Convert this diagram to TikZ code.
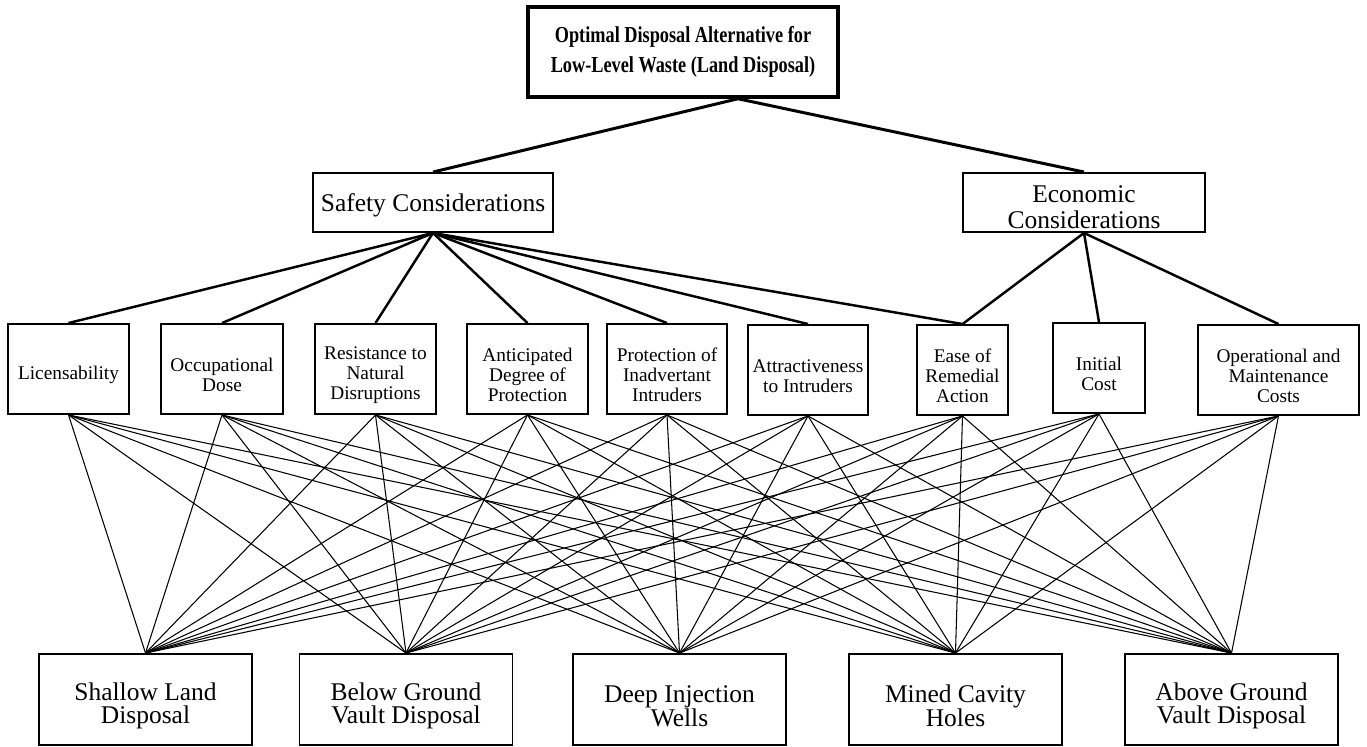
\documentclass[tikz,border=0pt]{standalone}
\usepackage{fontspec}
\setmainfont{Liberation Serif}
\newfontfamily\goalfont[FakeStretch=0.8]{Liberation Serif}
\newcommand{\low}[1][1.3em]{\rule{0pt}{#1}}% pushes a label down a little in its box

\begin{document}
\begin{tikzpicture}[x=0.02cm, y=-0.02cm,
		goalbox/.style={draw, line width=2pt, minimum width=6.2cm, minimum height=1.8cm,
			align=center, font=\goalfont\bfseries\fontsize{13}{17}\selectfont},
		critbox/.style={draw, line width=1.1pt, minimum width=4.8cm, minimum height=1.18cm,
			inner sep=1pt, align=center, font=\fontsize{14.5}{15}\selectfont},
		subbox/.style={draw, line width=1.1pt, minimum height=1.8cm, inner sep=1pt,
			align=center, font=\fontsize{11}{11.6}\selectfont},
		altbox/.style={draw, line width=1.1pt, minimum width=4.26cm, minimum height=1.82cm,
			align=center, font=\fontsize{14.5}{13.5}\selectfont}]
	\useasboundingbox (0,0) rectangle (1367,747);
	% goal
	\node[goalbox] (goal) at (683,52) {Optimal Disposal Alternative for\\Low-Level Waste (Land Disposal)};
	\coordinate (apex) at ([xshift=1.1cm]goal.south);
	% criteria
	\node[critbox] (safety) at (433,202.5) {\low[0.95em]Safety Considerations};
	\node[critbox, minimum width=4.84cm] (econ) at (1084,202.5) {\low[1.05em]Economic\\Considerations};
	% sub-criteria
	\node[subbox, minimum width=2.42cm] (lic) at (68.5,369) {\low Licensability};
	\node[subbox, minimum width=2.44cm] (occ) at (222,369) {\low Occupational\\Dose};
	\node[subbox, minimum width=2.42cm] (res) at (375.5,369) {\low Resistance to\\Natural\\Disruptions};
	\node[subbox, minimum width=2.42cm] (ant) at (527.5,369) {\low Anticipated\\Degree of\\Protection};
	\node[subbox, minimum width=2.40cm] (pro) at (667,369) {\low Protection of\\Inadvertant\\Intruders};
	\node[subbox, minimum width=2.40cm] (att) at (808,370) {\low Attractiveness\\to Intruders};
	\node[subbox, minimum width=1.82cm] (ease) at (962.5,370) {\low Ease of\\Remedial\\Action};
	\node[subbox, minimum width=1.84cm] (init) at (1099,368) {\low Initial\\Cost};
	\node[subbox, minimum width=3.22cm] (oper) at (1278.5,370) {\low Operational and\\Maintenance\\Costs};
	% alternatives
	\node[altbox] (shallow) at (145.5,699.5) {\low[1.2em]Shallow Land\\Disposal};
	\node[altbox] (below) at (406,699.5) {\low[1.2em]Below Ground\\Vault Disposal};
	\node[altbox] (deep) at (679.5,699.5) {\low[1.2em]Deep Injection\\Wells};
	\node[altbox] (mined) at (955.5,699.5) {\low[1.2em]Mined Cavity\\Holes};
	\node[altbox] (above) at (1231.5,699.5) {\low[1.2em]Above Ground\\Vault Disposal};
	% links
	\draw[line width=1.7pt] (apex) -- (safety.north);
	\draw[line width=1.7pt] (apex) -- (econ.north);
	\foreach \s in {lic,occ,res,ant,pro,att,ease}
		\draw[line width=1.4pt] (safety.south) -- (\s.north);
	\foreach \s in {ease,init,oper}
		\draw[line width=1.4pt] (econ.south) -- (\s.north);
	\foreach \s in {lic,occ,res,ant,pro,att,ease,init,oper} {
		\foreach \a in {shallow,below,deep,mined,above}
			\draw[line width=0.6pt] (\s.south) -- (\a.north);
	}
\end{tikzpicture}
\end{document}
